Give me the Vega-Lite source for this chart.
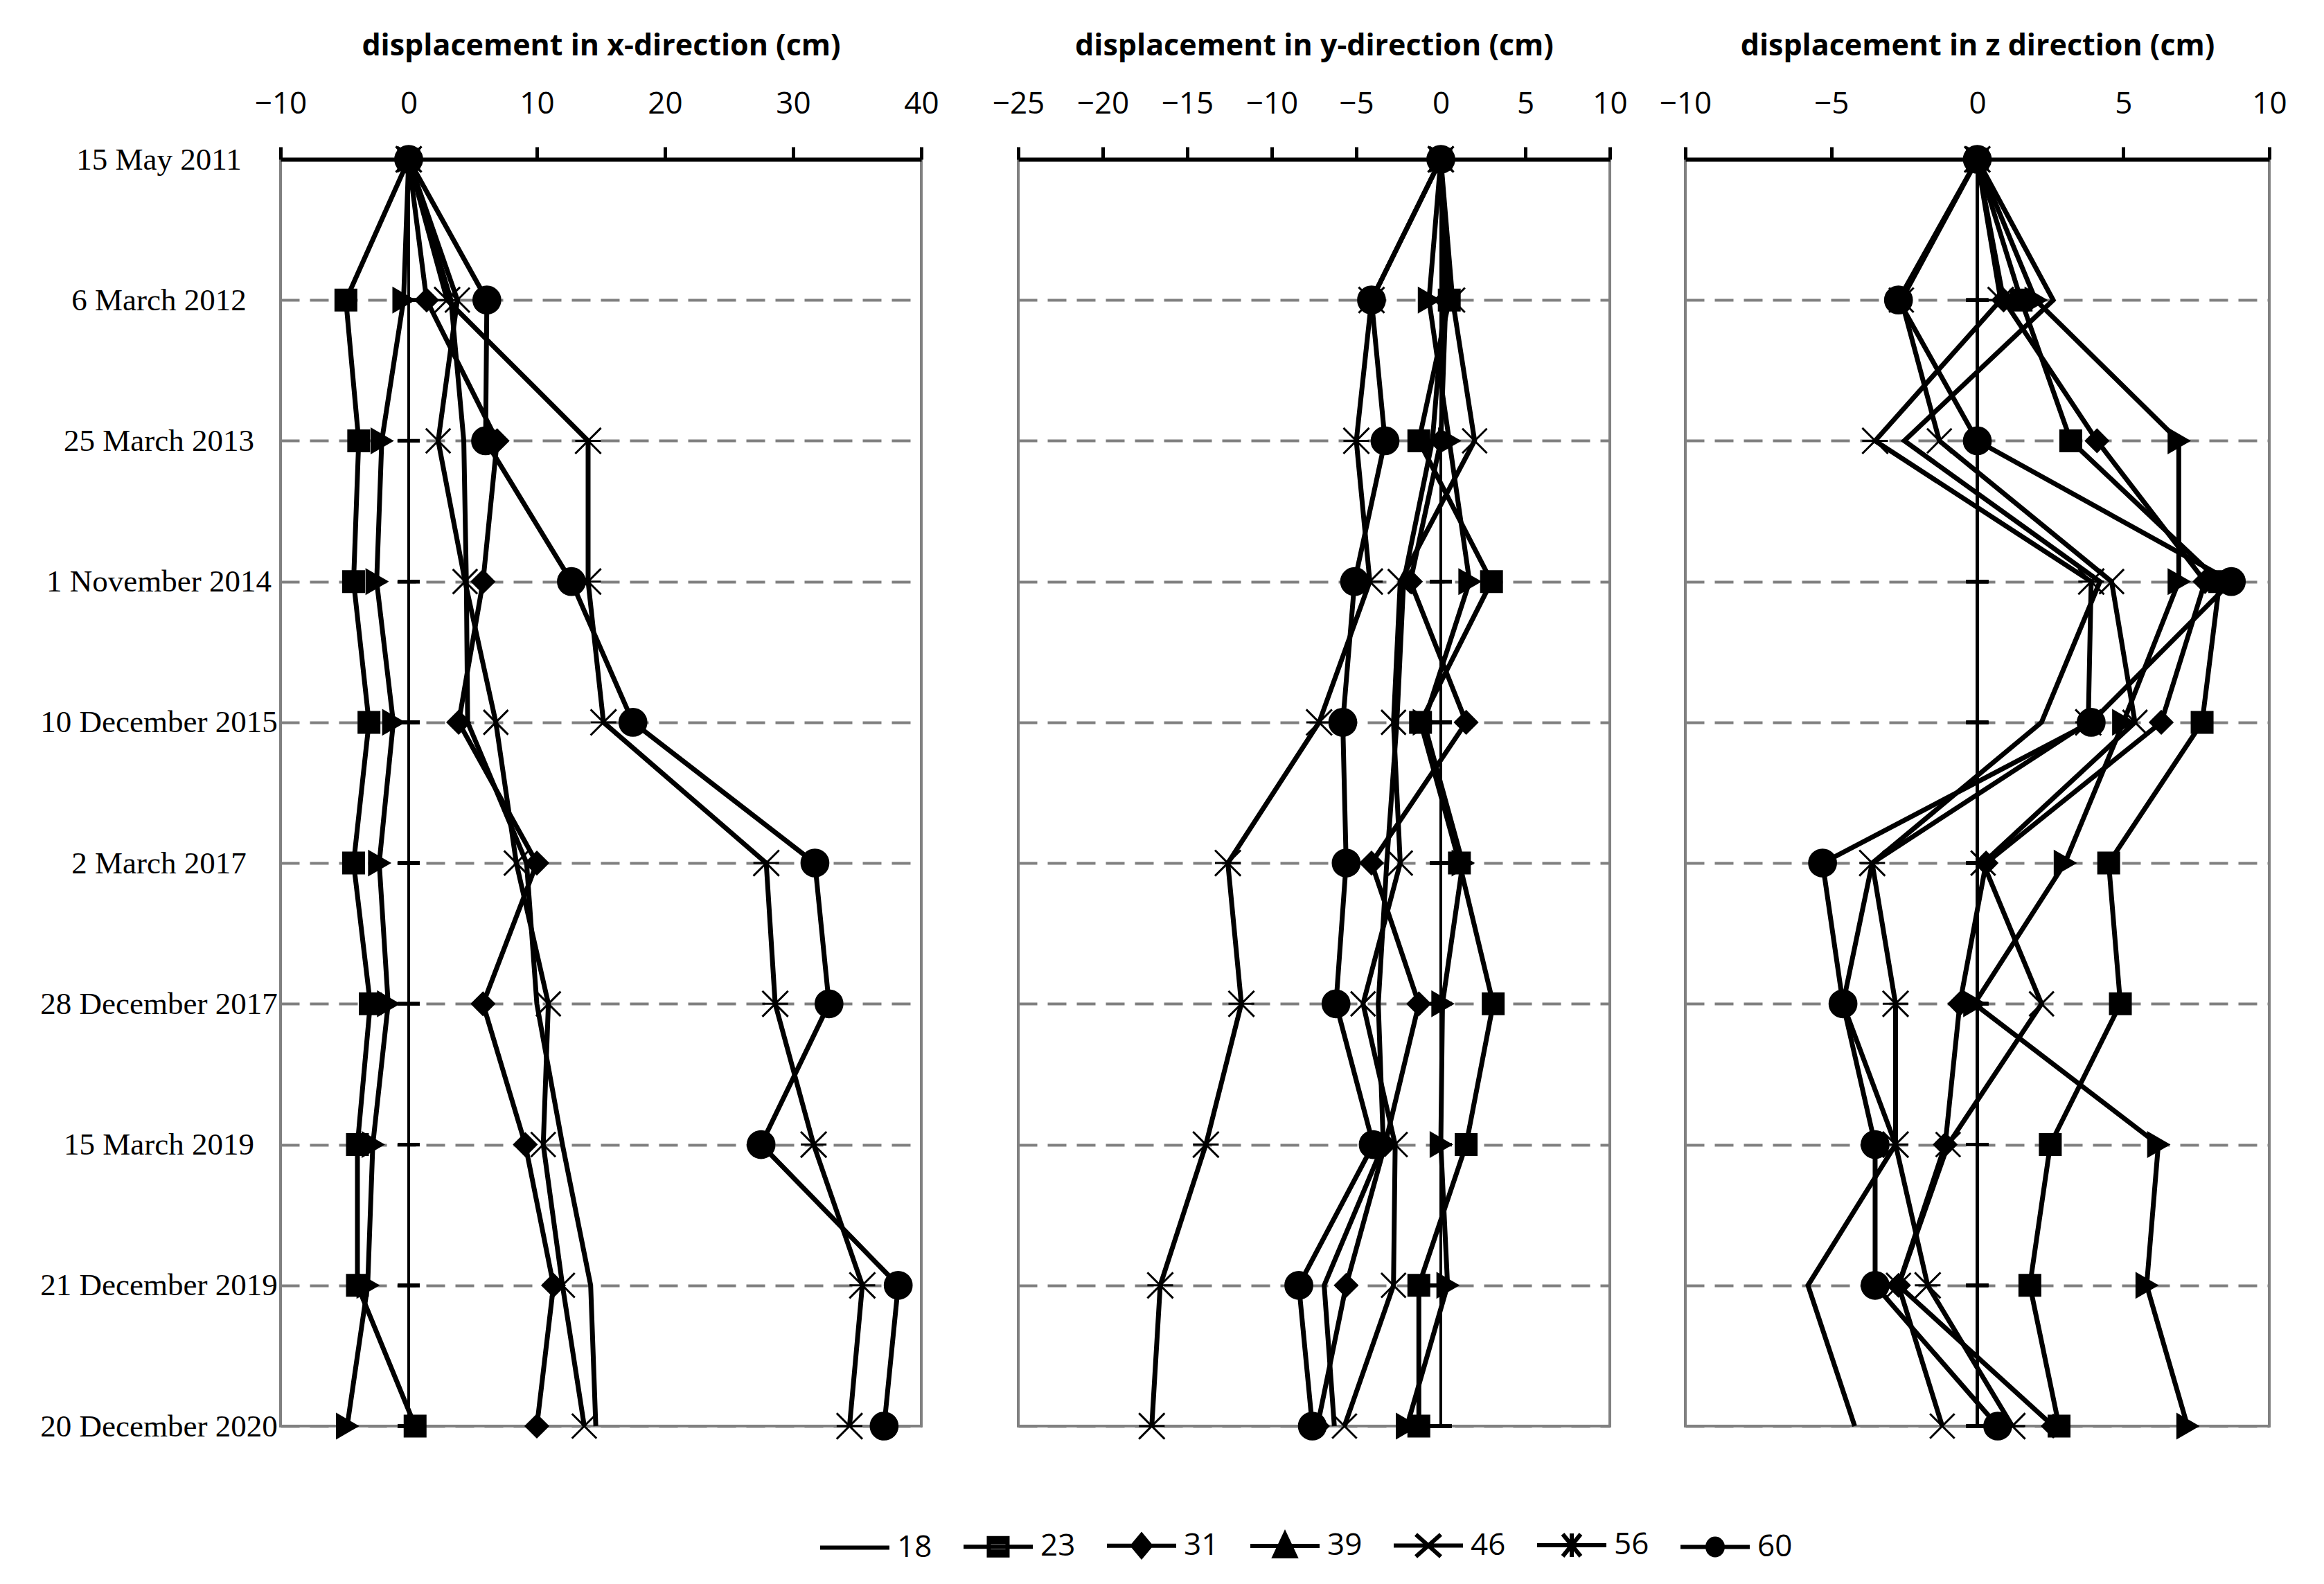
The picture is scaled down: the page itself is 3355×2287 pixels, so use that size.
{
"$schema":"https://vega.github.io/schema/vega-lite/v6.json",
"background":"white",
"padding":{"left":55,"top":43,"right":20,"bottom":20},
"datasets":{"pts":[
{"d":"15 May 2011","i":0,"s":"18","dx":0,"dy":0,"dz":0},
{"d":"6 March 2012","i":1,"s":"18","dx":3.3,"dy":0.2,"dz":2.6},
{"d":"25 March 2013","i":2,"s":"18","dx":4.3,"dy":-0.5,"dz":-2.5},
{"d":"1 November 2014","i":3,"s":"18","dx":4.5,"dy":-2.2,"dz":4.2},
{"d":"10 December 2015","i":4,"s":"18","dx":4.6,"dy":-2.6,"dz":2.2},
{"d":"2 March 2017","i":5,"s":"18","dx":9.2,"dy":-3.2,"dz":-3.6},
{"d":"28 December 2017","i":6,"s":"18","dx":10.0,"dy":-3.7,"dz":-4.6},
{"d":"15 March 2019","i":7,"s":"18","dx":12.0,"dy":-3.4,"dz":-2.8},
{"d":"21 December 2019","i":8,"s":"18","dx":14.2,"dy":-6.9,"dz":-5.8},
{"d":"20 December 2020","i":9,"s":"18","dx":14.6,"dy":-6.3,"dz":-4.2},
{"d":"15 May 2011","i":0,"s":"23","dx":0,"dy":0,"dz":0},
{"d":"6 March 2012","i":1,"s":"23","dx":-4.9,"dy":0.5,"dz":1.5},
{"d":"25 March 2013","i":2,"s":"23","dx":-3.9,"dy":-1.3,"dz":3.2},
{"d":"1 November 2014","i":3,"s":"23","dx":-4.3,"dy":3.0,"dz":8.3},
{"d":"10 December 2015","i":4,"s":"23","dx":-3.1,"dy":-1.2,"dz":7.7},
{"d":"2 March 2017","i":5,"s":"23","dx":-4.3,"dy":1.1,"dz":4.5},
{"d":"28 December 2017","i":6,"s":"23","dx":-3.0,"dy":3.1,"dz":4.9},
{"d":"15 March 2019","i":7,"s":"23","dx":-4.0,"dy":1.5,"dz":2.5},
{"d":"21 December 2019","i":8,"s":"23","dx":-4.0,"dy":-1.3,"dz":1.8},
{"d":"20 December 2020","i":9,"s":"23","dx":0.5,"dy":-1.3,"dz":2.8},
{"d":"15 May 2011","i":0,"s":"31","dx":0,"dy":0,"dz":0},
{"d":"6 March 2012","i":1,"s":"31","dx":1.4,"dy":0.3,"dz":0.9},
{"d":"25 March 2013","i":2,"s":"31","dx":6.9,"dy":0.0,"dz":4.1},
{"d":"1 November 2014","i":3,"s":"31","dx":5.8,"dy":-1.8,"dz":7.8},
{"d":"10 December 2015","i":4,"s":"31","dx":3.9,"dy":1.5,"dz":6.3},
{"d":"2 March 2017","i":5,"s":"31","dx":10.0,"dy":-4.1,"dz":0.3},
{"d":"28 December 2017","i":6,"s":"31","dx":5.8,"dy":-1.3,"dz":-0.6},
{"d":"15 March 2019","i":7,"s":"31","dx":9.1,"dy":-3.3,"dz":-1.1},
{"d":"21 December 2019","i":8,"s":"31","dx":11.3,"dy":-5.6,"dz":-2.7},
{"d":"20 December 2020","i":9,"s":"31","dx":10.0,"dy":-7.3,"dz":2.6},
{"d":"15 May 2011","i":0,"s":"39","dx":0,"dy":0,"dz":0},
{"d":"6 March 2012","i":1,"s":"39","dx":-0.4,"dy":-0.7,"dz":2.0},
{"d":"25 March 2013","i":2,"s":"39","dx":-2.1,"dy":0.5,"dz":6.9},
{"d":"1 November 2014","i":3,"s":"39","dx":-2.5,"dy":1.7,"dz":6.9},
{"d":"10 December 2015","i":4,"s":"39","dx":-1.2,"dy":-1.0,"dz":5.0},
{"d":"2 March 2017","i":5,"s":"39","dx":-2.3,"dy":1.3,"dz":3.0},
{"d":"28 December 2017","i":6,"s":"39","dx":-1.6,"dy":0.1,"dz":-0.1},
{"d":"15 March 2019","i":7,"s":"39","dx":-2.8,"dy":0.0,"dz":6.2},
{"d":"21 December 2019","i":8,"s":"39","dx":-3.2,"dy":0.4,"dz":5.8},
{"d":"20 December 2020","i":9,"s":"39","dx":-4.8,"dy":-2.0,"dz":7.2},
{"d":"15 May 2011","i":0,"s":"46","dx":0,"dy":0,"dz":0},
{"d":"6 March 2012","i":1,"s":"46","dx":3.8,"dy":0.7,"dz":-2.6},
{"d":"25 March 2013","i":2,"s":"46","dx":2.3,"dy":2.0,"dz":-1.3},
{"d":"1 November 2014","i":3,"s":"46","dx":4.4,"dy":-2.4,"dz":4.6},
{"d":"10 December 2015","i":4,"s":"46","dx":6.8,"dy":-2.8,"dz":5.4},
{"d":"2 March 2017","i":5,"s":"46","dx":8.4,"dy":-2.4,"dz":0.2},
{"d":"28 December 2017","i":6,"s":"46","dx":10.9,"dy":-4.6,"dz":2.2},
{"d":"15 March 2019","i":7,"s":"46","dx":10.5,"dy":-2.7,"dz":-1.0},
{"d":"21 December 2019","i":8,"s":"46","dx":12.0,"dy":-2.8,"dz":-2.7},
{"d":"20 December 2020","i":9,"s":"46","dx":13.7,"dy":-5.7,"dz":-1.2},
{"d":"15 May 2011","i":0,"s":"56","dx":0,"dy":0,"dz":0},
{"d":"6 March 2012","i":1,"s":"56","dx":3.0,"dy":-4.1,"dz":0.8},
{"d":"25 March 2013","i":2,"s":"56","dx":14.0,"dy":-5.0,"dz":-3.5},
{"d":"1 November 2014","i":3,"s":"56","dx":14.0,"dy":-4.2,"dz":3.9},
{"d":"10 December 2015","i":4,"s":"56","dx":15.2,"dy":-7.2,"dz":3.8},
{"d":"2 March 2017","i":5,"s":"56","dx":27.9,"dy":-12.6,"dz":-3.6},
{"d":"28 December 2017","i":6,"s":"56","dx":28.6,"dy":-11.8,"dz":-2.8},
{"d":"15 March 2019","i":7,"s":"56","dx":31.6,"dy":-13.9,"dz":-2.8},
{"d":"21 December 2019","i":8,"s":"56","dx":35.4,"dy":-16.6,"dz":-1.7},
{"d":"20 December 2020","i":9,"s":"56","dx":34.4,"dy":-17.1,"dz":1.2},
{"d":"15 May 2011","i":0,"s":"60","dx":0,"dy":0,"dz":0},
{"d":"6 March 2012","i":1,"s":"60","dx":6.1,"dy":-4.1,"dz":-2.7},
{"d":"25 March 2013","i":2,"s":"60","dx":6.0,"dy":-3.3,"dz":0},
{"d":"1 November 2014","i":3,"s":"60","dx":12.7,"dy":-5.1,"dz":8.7},
{"d":"10 December 2015","i":4,"s":"60","dx":17.5,"dy":-5.8,"dz":3.9},
{"d":"2 March 2017","i":5,"s":"60","dx":31.7,"dy":-5.6,"dz":-5.3},
{"d":"28 December 2017","i":6,"s":"60","dx":32.8,"dy":-6.2,"dz":-4.6},
{"d":"15 March 2019","i":7,"s":"60","dx":27.5,"dy":-4.0,"dz":-3.5},
{"d":"21 December 2019","i":8,"s":"60","dx":38.2,"dy":-8.4,"dz":-3.5},
{"d":"20 December 2020","i":9,"s":"60","dx":37.1,"dy":-7.6,"dz":0.7}
]},
"data":{"name":"pts"},
"spacing":140,
"bounds":"flush",
"resolve":{"scale":{"shape":"independent","size":"independent","x":"independent"}},
"hconcat":[
{
"width":925,"height":1829,
"layer":[
{"mark":{"type":"rule","color":"black","strokeWidth":4},"encoding":{"x":{"datum":0,"type":"quantitative","scale":{"domain":[-10,40],"nice":false,"zero":false},"axis":{"orient":"top","values":[-10,0,10,20,30,40],"title":"displacement in x-direction (cm)"}}}},
{"mark":{"type":"tick","orient":"horizontal","color":"black","thickness":5,"size":32},"encoding":{"x":{"datum":0,"type":"quantitative","axis":{"orient":"top","values":[-10,0,10,20,30,40],"title":"displacement in x-direction (cm)"}},"y":{"field":"d","type":"ordinal","scale":{"type":"point","padding":0,"domain":["15 May 2011","6 March 2012","25 March 2013","1 November 2014","10 December 2015","2 March 2017","28 December 2017","15 March 2019","21 December 2019","20 December 2020"]},"axis":{"title":null,"grid":true}}}},
{"mark":{"type":"line","color":"black","strokeWidth":7},"encoding":{
"x":{"field":"dx","type":"quantitative","axis":{"orient":"top","values":[-10,0,10,20,30,40],"title":"displacement in x-direction (cm)"}},
"y":{"field":"d","type":"ordinal","axis":{"title":null,"grid":true}},
"detail":{"field":"s"},"order":{"field":"i","type":"quantitative"}}},
{"transform":[{"filter":"datum.s != '18'"}],"mark":{"type":"point","filled":true,"color":"black","stroke":"black","strokeWidth":3,"opacity":1},"encoding":{
"x":{"field":"dx","type":"quantitative","axis":{"orient":"top","values":[-10,0,10,20,30,40],"title":"displacement in x-direction (cm)"}},
"y":{"field":"d","type":"ordinal","axis":{"title":null,"grid":true}},
"shape":{"field":"s","type":"nominal","legend":null,"scale":{"domain":["23","31","39","46","56","60"],"range":["square","diamond","triangle-right","M-1,-1L1,1M-1,1L1,-1","M-1,-1L1,1M-1,1L1,-1M-1,0L1,0","circle"]}},
"size":{"field":"s","type":"nominal","legend":null,"scale":{"domain":["23","31","39","46","56","60"],"range":[900,1500,1800,2000,2000,1700]}}}}
]
},
{
"spacing":109,
"bounds":"flush",
"resolve":{"scale":{"shape":"independent","size":"independent","x":"independent"}},
"hconcat":[
{
"width":854,"height":1829,
"resolve":{"scale":{"shape":"independent","size":"independent"}},
"layer":[
{"mark":{"type":"rule","color":"black","strokeWidth":4},"encoding":{"x":{"datum":0,"type":"quantitative","scale":{"domain":[-25,10],"nice":false,"zero":false},"axis":{"orient":"top","values":[-25,-20,-15,-10,-5,0,5,10],"title":"displacement in y-direction (cm)"}}}},
{"mark":{"type":"tick","orient":"horizontal","color":"black","thickness":5,"size":32},"encoding":{"x":{"datum":0,"type":"quantitative","axis":{"orient":"top","values":[-25,-20,-15,-10,-5,0,5,10],"title":"displacement in y-direction (cm)"}},"y":{"field":"d","type":"ordinal","scale":{"type":"point","padding":0,"domain":["15 May 2011","6 March 2012","25 March 2013","1 November 2014","10 December 2015","2 March 2017","28 December 2017","15 March 2019","21 December 2019","20 December 2020"]},"axis":{"title":null,"grid":true,"labels":false}}}},
{"mark":{"type":"line","color":"black","strokeWidth":7},"encoding":{
"x":{"field":"dy","type":"quantitative","axis":{"orient":"top","values":[-25,-20,-15,-10,-5,0,5,10],"title":"displacement in y-direction (cm)"}},
"y":{"field":"d","type":"ordinal","axis":{"title":null,"grid":true,"labels":false}},
"detail":{"field":"s"},"order":{"field":"i","type":"quantitative"}}},
{"transform":[{"filter":"datum.s != '18'"}],"mark":{"type":"point","filled":true,"color":"black","stroke":"black","strokeWidth":3,"opacity":1},"encoding":{
"x":{"field":"dy","type":"quantitative","axis":{"orient":"top","values":[-25,-20,-15,-10,-5,0,5,10],"title":"displacement in y-direction (cm)"}},
"y":{"field":"d","type":"ordinal","axis":{"title":null,"grid":true,"labels":false}},
"shape":{"field":"s","type":"nominal","legend":null,"scale":{"domain":["23","31","39","46","56","60"],"range":["square","diamond","triangle-right","M-1,-1L1,1M-1,1L1,-1","M-1,-1L1,1M-1,1L1,-1M-1,0L1,0","circle"]}},
"size":{"field":"s","type":"nominal","legend":null,"scale":{"domain":["23","31","39","46","56","60"],"range":[900,1500,1800,2000,2000,1700]}}}},
{"transform":[{"filter":"datum.i < 0"}],"mark":{"type":"point","filled":false,"color":"black","stroke":"black","strokeWidth":6,"opacity":1},"encoding":{
"x":{"field":"dy","type":"quantitative","axis":{"orient":"top","values":[-25,-20,-15,-10,-5,0,5,10],"title":"displacement in y-direction (cm)"}},
"y":{"field":"d","type":"ordinal","axis":{"title":null,"grid":true,"labels":false}},
"shape":{"field":"s","type":"nominal","scale":{"domain":["18","23","31","39","46","56","60"],"range":[
"M-1,0L1,0",
"M-1,0L1,0M-0.27,-0.25L0.27,-0.25L0.27,0.25L-0.27,0.25ZM-0.27,-0.13L0.27,-0.13M-0.27,0.13L0.27,0.13",
"M-1,0L1,0M0,-0.31L0.26,0L0,0.31L-0.26,0ZM-0.159,-0.12L0.159,-0.12M-0.159,0.12L0.159,0.12M-0.075,-0.22L0.075,-0.22M-0.075,0.22L0.075,0.22",
"M-1,0L1,0M0,-0.34L0.3,0.3L-0.3,0.3ZM-0.056,-0.22L0.056,-0.22M-0.108,-0.11L0.108,-0.11M-0.211,0.11L0.211,0.11M-0.253,0.2L0.253,0.2",
"M-1,0L1,0M-0.36,-0.32L0.36,0.32M-0.36,0.32L0.36,-0.32",
"M-1,0L1,0M-0.26,-0.32L0.26,0.32M-0.26,0.32L0.26,-0.32M0,-0.34L0,0.34",
"M-1,0L1,0M-0.22,0A0.22,0.24 0 1,0 0.22,0A0.22,0.24 0 1,0 -0.22,0ZM-0.19,-0.12L0.19,-0.12M-0.19,0.12L0.19,0.12"]},
"legend":{"title":null,"orient":"none","legendX":-289,"legendY":1948,"direction":"horizontal","columns":7,"columnPadding":33,"symbolSize":10000,"symbolStrokeWidth":6,"symbolStrokeColor":"black","labelFont":"Open Sans","labelFontSize":44,"labelColor":"black","labelOffset":8,"padding":0}}}}
]
},
{
"width":843,"height":1829,
"layer":[
{"mark":{"type":"rule","color":"black","strokeWidth":4},"encoding":{"x":{"datum":0,"type":"quantitative","scale":{"domain":[-10,10],"nice":false,"zero":false},"axis":{"orient":"top","values":[-10,-5,0,5,10],"title":"displacement in z direction (cm)"}}}},
{"mark":{"type":"tick","orient":"horizontal","color":"black","thickness":5,"size":32},"encoding":{"x":{"datum":0,"type":"quantitative","axis":{"orient":"top","values":[-10,-5,0,5,10],"title":"displacement in z direction (cm)"}},"y":{"field":"d","type":"ordinal","scale":{"type":"point","padding":0,"domain":["15 May 2011","6 March 2012","25 March 2013","1 November 2014","10 December 2015","2 March 2017","28 December 2017","15 March 2019","21 December 2019","20 December 2020"]},"axis":{"title":null,"grid":true,"labels":false}}}},
{"mark":{"type":"line","color":"black","strokeWidth":7},"encoding":{
"x":{"field":"dz","type":"quantitative","axis":{"orient":"top","values":[-10,-5,0,5,10],"title":"displacement in z direction (cm)"}},
"y":{"field":"d","type":"ordinal","axis":{"title":null,"grid":true,"labels":false}},
"detail":{"field":"s"},"order":{"field":"i","type":"quantitative"}}},
{"transform":[{"filter":"datum.s != '18'"}],"mark":{"type":"point","filled":true,"color":"black","stroke":"black","strokeWidth":3,"opacity":1},"encoding":{
"x":{"field":"dz","type":"quantitative","axis":{"orient":"top","values":[-10,-5,0,5,10],"title":"displacement in z direction (cm)"}},
"y":{"field":"d","type":"ordinal","axis":{"title":null,"grid":true,"labels":false}},
"shape":{"field":"s","type":"nominal","legend":null,"scale":{"domain":["23","31","39","46","56","60"],"range":["square","diamond","triangle-right","M-1,-1L1,1M-1,1L1,-1","M-1,-1L1,1M-1,1L1,-1M-1,0L1,0","circle"]}},
"size":{"field":"s","type":"nominal","legend":null,"scale":{"domain":["23","31","39","46","56","60"],"range":[900,1500,1800,2000,2000,1700]}}}}
]
}
]
}
],
"config":{
"view":{"stroke":"#808080","strokeWidth":4},
"axis":{"gridColor":"#808080","gridWidth":4,"gridOpacity":1,"labelColor":"black","titleColor":"black"},
"axisX":{"labelFont":"Open Sans","labelFontSize":44,"labelPadding":40,"tickSize":18,"tickWidth":5,"tickColor":"black","domainColor":"black","domainWidth":6,"gridDash":[23,12],"titleFont":"Open Sans","titleFontWeight":"bold","titleFontSize":43,"titlePadding":40,"labelFlush":false,"labelOverlap":false},
"axisY":{"gridDash":[27,15],"domain":false,"ticks":false,"labelFont":"Liberation Serif","labelFontSize":45,"labelPadding":176,"labelAlign":"center","labelLimit":1000}
}
}
